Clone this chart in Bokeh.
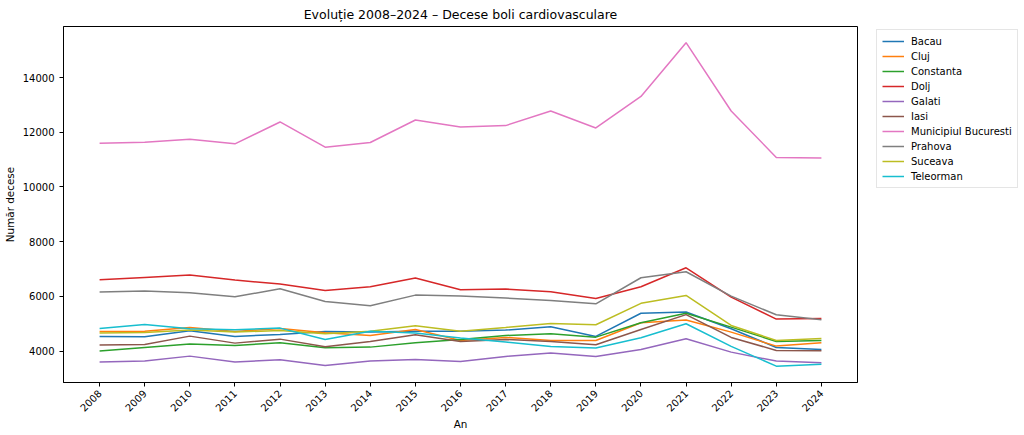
import math
from bokeh.plotting import figure
from bokeh.models import Legend, LegendItem, FixedTicker, Range1d
from bokeh.embed import file_html
from bokeh.resources import INLINE

years = list(range(2008, 2025))
year_labels = [str(y) for y in years]

bacau = [4536, 4523, 4743, 4536, 4609, 4719, 4695, 4730, 4730, 4768, 4889, 4536, 5383, 5432, 4816, 4134, 4061]
cluj = [4720, 4730, 4865, 4720, 4829, 4670, 4572, 4792, 4390, 4500, 4390, 4390, 5036, 5140, 4695, 4183, 4305]
constanta = [4000, 4134, 4256, 4207, 4304, 4121, 4146, 4305, 4426, 4572, 4634, 4511, 5036, 5383, 4877, 4353, 4390]
dolj = [6605, 6695, 6778, 6596, 6449, 6218, 6354, 6669, 6241, 6266, 6168, 5926, 6351, 7046, 5974, 5170, 5194]
galati = [3599, 3635, 3817, 3599, 3683, 3477, 3635, 3695, 3622, 3806, 3927, 3806, 4061, 4451, 3963, 3635, 3574]
iasi = [4219, 4244, 4548, 4292, 4438, 4158, 4353, 4597, 4353, 4426, 4353, 4231, 4792, 5333, 4500, 4025, 4012]
bucuresti = [11600, 11636, 11745, 11575, 12375, 11455, 11625, 12447, 12193, 12242, 12775, 12157, 13309, 15273, 12775, 11079, 11055]
prahova = [6157, 6193, 6132, 5986, 6278, 5816, 5657, 6047, 6011, 5938, 5852, 5730, 6681, 6900, 6011, 5328, 5145]
suceava = [4658, 4681, 4768, 4695, 4755, 4634, 4730, 4926, 4730, 4865, 5012, 4962, 5747, 6035, 4938, 4390, 4463]
teleorman = [4829, 4975, 4816, 4780, 4841, 4426, 4730, 4658, 4475, 4329, 4171, 4112, 4487, 4999, 4171, 3451, 3524]

series_names = ["Bacau", "Cluj", "Constanta", "Dolj", "Galati", "Iasi",
                "Municipiul Bucuresti", "Prahova", "Suceava", "Teleorman"]
series_values = [bacau, cluj, constanta, dolj, galati, iasi, bucuresti, prahova, suceava, teleorman]
colors = ["#1f77b4", "#ff7f0e", "#2ca02c", "#d62728", "#9467bd",
          "#8c564b", "#e377c2", "#7f7f7f", "#bcbd22", "#17becf"]
y_ticks = [4000, 6000, 8000, 10000, 12000, 14000]

FONT = "DejaVu Sans"

p = figure(frame_width=794, frame_height=356,
           x_range=Range1d(2007.2, 2024.8), y_range=Range1d(2853, 15864),
           output_backend="svg", toolbar_location=None,
           min_border_left=10, min_border_top=4, min_border_bottom=4, min_border_right=4,
           title="Evoluție 2008–2024 – Decese boli cardiovasculare")

p.title.align = "center"
p.title.text_font = FONT
p.title.text_font_size = "12.5px"
p.title.text_font_style = "normal"
p.title.text_color = "black"
p.title.standoff = 9

p.xgrid.visible = False
p.ygrid.visible = False
p.outline_line_color = "black"
p.outline_line_width = 1
p.background_fill_color = "white"
p.border_fill_color = "white"

for ax in (p.xaxis[0], p.yaxis[0]):
    ax.axis_line_color = "black"
    ax.axis_line_width = 1
    ax.major_tick_line_color = "black"
    ax.major_tick_out = 4
    ax.major_tick_in = 0
    ax.minor_tick_line_color = None
    ax.major_label_text_font = FONT
    ax.major_label_text_font_size = "10px"
    ax.major_label_text_color = "black"
    ax.axis_label_text_font = FONT
    ax.axis_label_text_font_size = "10.4px"
    ax.axis_label_text_font_style = "normal"
    ax.axis_label_text_color = "black"

p.xaxis.ticker = FixedTicker(ticks=years)
p.xaxis.major_label_overrides = {y: s for y, s in zip(years, year_labels)}
p.xaxis.major_label_orientation = math.pi / 4
p.xaxis.axis_label = "An"
p.xaxis.axis_label_standoff = 0
p.yaxis.ticker = FixedTicker(ticks=y_ticks)
p.yaxis.axis_label = "Număr decese"
p.yaxis.axis_label_standoff = 4

items = []
for name, vals, col in zip(series_names, series_values, colors):
    r = p.line(years, vals, line_color=col, line_width=1.5)
    items.append(LegendItem(label=name, renderers=[r]))

legend = Legend(items=items, location=(19, 194))
legend.margin = 0
legend.padding = 5
legend.spacing = 3
legend.glyph_width = 22
legend.glyph_height = 12
legend.label_height = 12
legend.label_standoff = 7
legend.label_text_font = FONT
legend.label_text_font_size = "10px"
legend.label_text_color = "black"
legend.border_line_color = "#cccccc"
legend.border_line_width = 1
legend.background_fill_color = "white"
legend.background_fill_alpha = 0.8
p.add_layout(legend, "right")

open("out.html", "w").write(file_html(p, INLINE))
